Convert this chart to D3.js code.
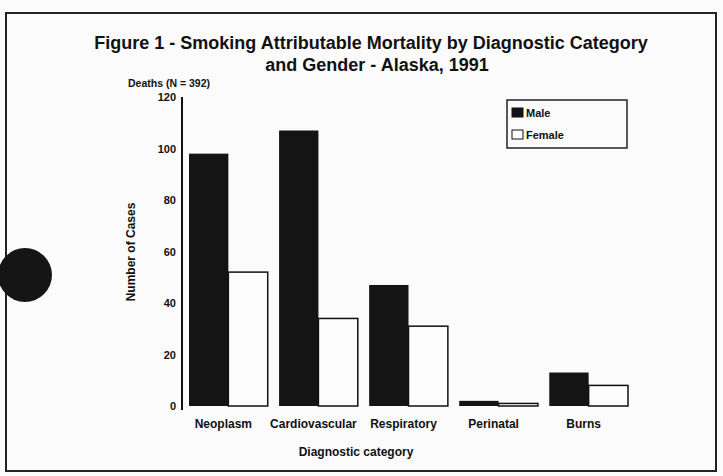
<!DOCTYPE html>
<html lang="en">
<head>
  <meta charset="UTF-8">
  <title>Smoking Attributable Mortality - Alaska 1991</title>
  <script src="https://d3js.org/d3.v7.min.js"></script>
  <style>
    body { margin: 0; background: #fbfbfb; font-family: "Liberation Sans", Arial, sans-serif; }
    svg { display: block; }
    .tick text { font-size: 11px; font-family: "Liberation Sans", Arial, sans-serif; }
  </style>
</head>
<body>
  <svg width="723" height="476"></svg>

  <script>
    // data
    const categories = ["Neoplasm", "Cardiovascular", "Respiratory", "Perinatal", "Burns"];
    const series = ["Male", "Female"];
    const maleDeaths = [98, 107, 47, 2, 13];
    const femaleDeaths = [52, 34, 31, 1, 8];
    const yTicks = [0, 20, 40, 60, 80, 100, 120];

    const svg = d3.select("svg");

    // page frame
    svg.append("rect")
        .attr("x", 6).attr("y", 13).attr("width", 710).attr("height", 458)
        .attr("fill", "none").attr("stroke", "#222").attr("stroke-width", 2);

    // hole punch from the scan
    svg.append("circle")
        .attr("cx", 25).attr("cy", 275).attr("r", 27)
        .attr("fill", "#151515");

    const x0 = d3.scaleBand()
        .domain(categories)
        .range([189, 628])
        .paddingInner(0.126)
        .paddingOuter(0);

    const x1 = d3.scaleBand()
        .domain(series)
        .range([0, x0.bandwidth()]);

    const y = d3.scaleLinear()
        .domain([0, 120])
        .range([406, 97]);

    // y axis
    const yAxis = svg.append("g")
        .attr("transform", "translate(182,0)")
        .call(d3.axisLeft(y).tickValues(yTicks).tickSize(0).tickPadding(6));
    yAxis.select(".domain").attr("stroke", "#111").attr("stroke-width", 2)
        .attr("d", `M0,${y(120)}V${y(0) + 4}`);
    yAxis.selectAll(".tick text").attr("fill", "#111").attr("font-weight", "bold")
        .attr("font-size", 12);

    const rows = categories.map((c, i) => ({ cat: c, Male: maleDeaths[i], Female: femaleDeaths[i] }));

    const groups = svg.selectAll(".grp")
      .data(rows)
      .enter().append("g")
        .attr("class", "grp")
        .attr("transform", d => `translate(${x0(d.cat)},0)`);

    groups.append("rect")
        .attr("x", x1("Male"))
        .attr("y", d => y(d.Male))
        .attr("width", x1.bandwidth())
        .attr("height", d => y(0) - y(d.Male))
        .attr("fill", "#141414");

    groups.append("rect")
        .attr("x", x1("Female"))
        .attr("y", d => y(d.Female))
        .attr("width", x1.bandwidth())
        .attr("height", d => y(0) - y(d.Female))
        .attr("fill", "#fdfdfd")
        .attr("stroke", "#111")
        .attr("stroke-width", 1.5);

    // category labels
    svg.selectAll(".cat")
      .data(categories)
      .enter().append("text")
        .attr("class", "cat")
        .attr("x", d => x0(d) + x0.bandwidth() / 2 - 5)
        .attr("y", 428)
        .attr("text-anchor", "middle")
        .attr("font-size", 12)
        .attr("font-weight", "bold")
        .attr("fill", "#111")
        .text(d => d);

    svg.append("text")
        .attr("x", 356).attr("y", 456)
        .attr("text-anchor", "middle")
        .attr("font-size", 12).attr("font-weight", "bold").attr("fill", "#111")
        .text("Diagnostic category");

    svg.append("text")
        .attr("transform", "translate(135,252) rotate(-90)")
        .attr("text-anchor", "middle")
        .attr("font-size", 12).attr("font-weight", "bold").attr("fill", "#111")
        .text("Number of Cases");

    svg.append("text")
        .attr("x", 128).attr("y", 87)
        .attr("font-size", 10.5).attr("font-weight", "bold").attr("fill", "#111")
        .text("Deaths (N = 392)");

    // title
    const title = svg.append("text")
        .attr("text-anchor", "middle")
        .attr("font-size", 18).attr("font-weight", "bold").attr("fill", "#111");
    title.append("tspan").attr("x", 371).attr("y", 49)
        .text("Figure 1 - Smoking Attributable Mortality by Diagnostic Category");
    title.append("tspan").attr("x", 377).attr("y", 71)
        .text("and Gender - Alaska, 1991");

    // legend
    const legend = svg.append("g").attr("transform", "translate(507,100)");
    legend.append("rect")
        .attr("width", 120).attr("height", 48)
        .attr("fill", "none").attr("stroke", "#222").attr("stroke-width", 1.5);
    const items = legend.selectAll(".item")
      .data(series)
      .enter().append("g")
        .attr("class", "item")
        .attr("transform", (d, i) => `translate(5,${8 + i * 22})`);
    items.append("rect")
        .attr("width", 11).attr("height", 9)
        .attr("fill", d => d === "Male" ? "#141414" : "#fdfdfd")
        .attr("stroke", "#111").attr("stroke-width", 1);
    items.append("text")
        .attr("x", 14).attr("y", 9)
        .attr("font-size", 11).attr("font-weight", "bold").attr("fill", "#111")
        .text(d => d);
  </script>
</body>
</html>
